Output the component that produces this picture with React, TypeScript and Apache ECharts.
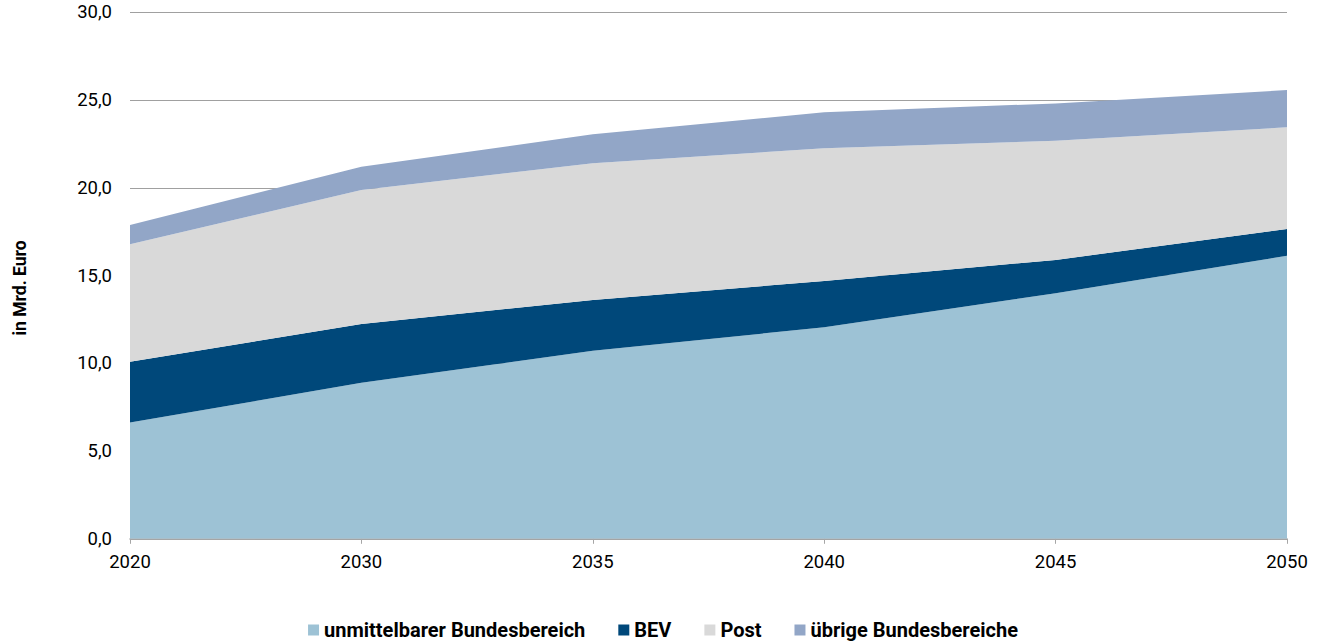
import React, { useEffect, useRef } from "react";
import * as echarts from "echarts";

const years = ["2020", "2030", "2035", "2040", "2045", "2050"];
const unmittelbar = [6.62, 8.89, 10.72, 12.05, 13.99, 16.13];
const bev = [3.47, 3.35, 2.89, 2.64, 1.9, 1.52];
const post = [6.69, 7.63, 7.79, 7.56, 6.79, 5.8];
const uebrige = [1.1, 1.33, 1.65, 2.05, 2.13, 2.12];

const seriesNames = ["unmittelbarer Bundesbereich", "BEV", "Post", "übrige Bundesbereiche"];
const seriesColors = ["#9DC2D5", "#00487A", "#D9D9D9", "#92A6C7"];
const FONT = "Roboto, 'Noto Sans', sans-serif";

export default function App() {
  const ref = useRef<HTMLDivElement>(null);
  useEffect(() => {
    if (!ref.current) return;
    const chart = echarts.init(ref.current, null, { renderer: "svg" });
    const data = [unmittelbar, bev, post, uebrige];
    chart.setOption({
      animation: false,
      textStyle: { fontFamily: FONT },
      grid: { left: 130, right: 39, top: 12.3, bottom: 104.2, containLabel: false },
      legend: {
        data: seriesNames,
        left: "center",
        top: 620,
        padding: 0,
        icon: "rect",
        itemWidth: 11,
        itemHeight: 11,
        itemGap: 33,
        textStyle: { fontFamily: FONT, fontSize: 20, lineHeight: 20, fontWeight: "bold", color: "#000" },
      },
      xAxis: {
        type: "category",
        data: years,
        boundaryGap: false,
        axisLine: { lineStyle: { color: "#A6A6A6", width: 1.5 } },
        axisTick: { show: true, length: 5, lineStyle: { color: "#A6A6A6" } },
        axisLabel: { color: "#000", fontSize: 18.5, margin: 14, fontFamily: FONT },
        splitLine: { show: false },
      },
      yAxis: {
        type: "value",
        min: 0,
        max: 30,
        interval: 5,
        axisLine: { show: false },
        axisTick: { show: false },
        axisLabel: {
          color: "#000",
          fontSize: 18.5,
          margin: 18,
          fontFamily: FONT,
          formatter: (v: number) => v.toFixed(1).replace(".", ","),
        },
        splitLine: { lineStyle: { color: "#A0A0A0", width: 1 } },
      },
      graphic: [
        {
          type: "text",
          x: 20,
          y: 288,
          rotation: Math.PI / 2,
          style: {
            text: "in Mrd. Euro",
            font: `bold 17.5px ${FONT}`,
            fill: "#000",
            textAlign: "center",
            textVerticalAlign: "middle",
          },
        },
      ],
      series: data.map((d, i) => ({
        name: seriesNames[i],
        type: "line",
        stack: "total",
        data: d,
        symbol: "none",
        lineStyle: { width: 0 },
        itemStyle: { color: seriesColors[i] },
        areaStyle: { color: seriesColors[i], opacity: 1 },
      })),
    });
    return () => chart.dispose();
  }, []);
  return <div ref={ref} style={{ width: 1326, height: 643, position: "absolute", left: 0, top: 0 }} />;
}
